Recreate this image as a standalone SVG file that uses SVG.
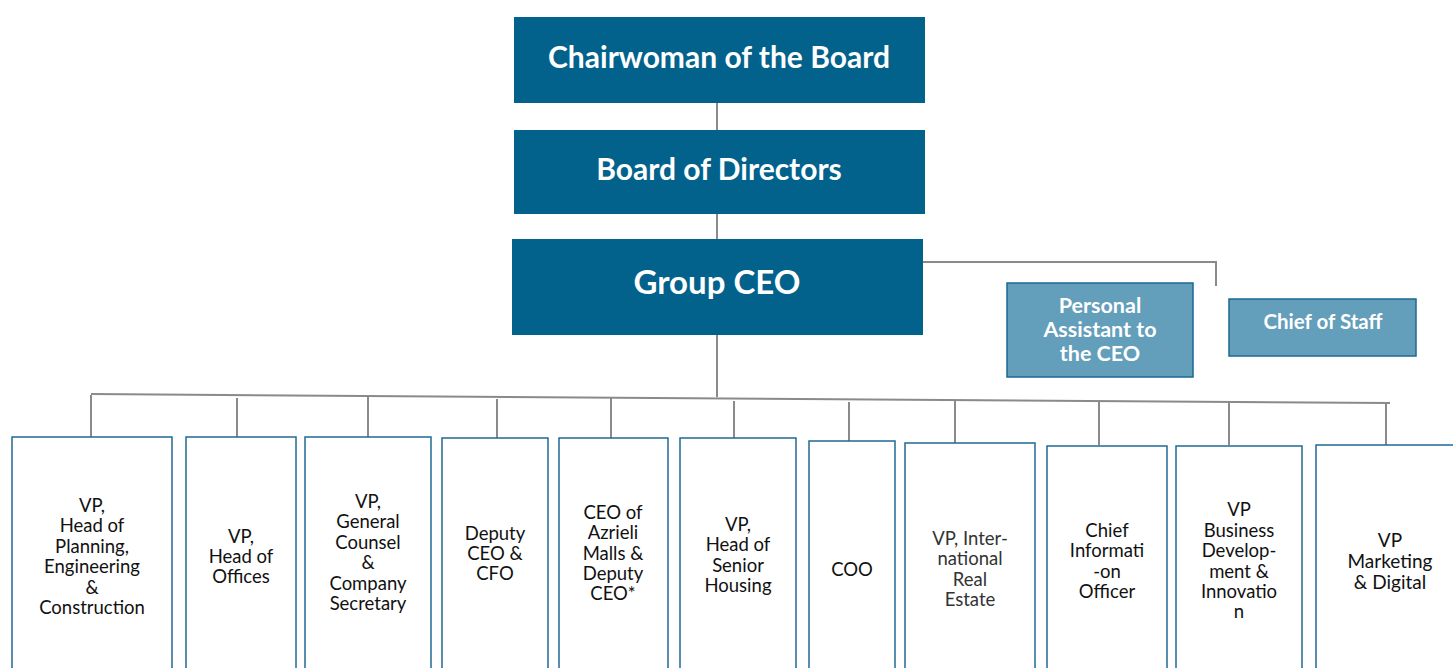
<svg xmlns="http://www.w3.org/2000/svg" width="1453" height="668" viewBox="0 0 1453 668">
<style>
.top{fill:#02628c}
.sub{fill:#639ebb;stroke:#1d6890;stroke-width:1.5}
.box{fill:#fff;stroke:#1f6a96;stroke-width:1.5}
.ln{stroke:#8a8a8a;stroke-width:2;fill:none}
.tw{font-family:Lato,"Open Sans",sans-serif;font-weight:bold;fill:#fff;text-anchor:middle}
.tb{font-family:Lato,"Open Sans",sans-serif;font-size:18.5px;fill:#111;text-anchor:middle}
</style>
<rect width="1453" height="668" fill="#fff"/>
<g id="connectors">
<path class="ln" d="M717 103V130M717 213V239M717 334V397"/>
<path class="ln" d="M923 262H1216V286"/>
<path class="ln" d="M91 394L1390 403"/>
<path class="ln" d="M91 395V437M237 398V437M368 397V437M497 399V440M611 398V439M734 401V441M849 402V445M955 400V443M1099 402V445M1229 403V445M1386 403V446"/>
</g>
<g id="chairwoman"><rect class="top" x="514" y="17" width="411" height="86"/><text class="tw" x="719" y="68" font-size="30">Chairwoman of the Board</text></g>
<g id="board"><rect class="top" x="514" y="130" width="411" height="84"/><text class="tw" x="719" y="180" font-size="30">Board of Directors</text></g>
<g id="ceo"><rect class="top" x="512" y="239" width="411" height="96"/><text class="tw" x="717" y="294" font-size="33">Group CEO</text></g>
<g id="pa"><rect class="sub" x="1007" y="283" width="186" height="94"/><text class="tw" font-size="21.5"><tspan x="1100" y="313">Personal</tspan><tspan x="1100" y="337">Assistant to</tspan><tspan x="1100" y="361">the CEO</tspan></text></g>
<g id="cos"><rect class="sub" x="1229" y="299" width="187" height="57"/><text class="tw" x="1323" y="329" font-size="20.5">Chief of Staff</text></g>
<g id="n1"><rect class="box" x="12" y="437" width="160" height="240"/><text class="tb"><tspan x="92" y="512">VP,</tspan><tspan x="92" y="532">Head of</tspan><tspan x="92" y="553">Planning,</tspan><tspan x="92" y="573">Engineering</tspan><tspan x="92" y="594">&amp;</tspan><tspan x="92" y="614">Construction</tspan></text></g>
<g id="n2"><rect class="box" x="186" y="437" width="110" height="240"/><text class="tb"><tspan x="241" y="543">VP,</tspan><tspan x="241" y="563">Head of</tspan><tspan x="241" y="583">Offices</tspan></text></g>
<g id="n3"><rect class="box" x="305" y="437" width="126" height="240"/><text class="tb"><tspan x="368" y="508">VP,</tspan><tspan x="368" y="528">General</tspan><tspan x="368" y="549">Counsel</tspan><tspan x="368" y="569">&amp;</tspan><tspan x="368" y="590">Company</tspan><tspan x="368" y="610">Secretary</tspan></text></g>
<g id="n4"><rect class="box" x="442" y="438" width="106" height="240"/><text class="tb"><tspan x="495" y="540">Deputy</tspan><tspan x="495" y="560">CEO &amp;</tspan><tspan x="495" y="580">CFO</tspan></text></g>
<g id="n5"><rect class="box" x="559" y="438" width="109" height="240"/><text class="tb"><tspan x="613" y="519">CEO of</tspan><tspan x="613" y="539">Azrieli</tspan><tspan x="613" y="560">Malls &amp;</tspan><tspan x="613" y="580">Deputy</tspan><tspan x="613" y="600">CEO*</tspan></text></g>
<g id="n6"><rect class="box" x="680" y="438" width="116" height="240"/><text class="tb"><tspan x="738" y="531">VP,</tspan><tspan x="738" y="551">Head of</tspan><tspan x="738" y="572">Senior</tspan><tspan x="738" y="592">Housing</tspan></text></g>
<g id="n7"><rect class="box" x="809" y="441" width="86" height="240"/><text class="tb" x="852" y="576">COO</text></g>
<g id="n8"><rect class="box" x="905" y="443" width="130" height="240"/><text class="tb" style="fill:#333"><tspan x="970" y="545">VP, Inter-</tspan><tspan x="970" y="565">national</tspan><tspan x="970" y="586">Real</tspan><tspan x="970" y="606">Estate</tspan></text></g>
<g id="n9"><rect class="box" x="1047" y="446" width="120" height="240"/><text class="tb"><tspan x="1107" y="537">Chief</tspan><tspan x="1107" y="557">Informati</tspan><tspan x="1107" y="578">-on</tspan><tspan x="1107" y="598">Officer</tspan></text></g>
<g id="n10"><rect class="box" x="1176" y="446" width="126" height="240"/><text class="tb"><tspan x="1239" y="516">VP</tspan><tspan x="1239" y="537">Business</tspan><tspan x="1239" y="557">Develop-</tspan><tspan x="1239" y="578">ment &amp;</tspan><tspan x="1239" y="598">Innovatio</tspan><tspan x="1239" y="618">n</tspan></text></g>
<g id="n11"><rect class="box" x="1316" y="445" width="150" height="240"/><text class="tb" style="font-size:19px"><tspan x="1390" y="547">VP</tspan><tspan x="1390" y="568">Marketing</tspan><tspan x="1390" y="589">&amp; Digital</tspan></text></g>
</svg>
